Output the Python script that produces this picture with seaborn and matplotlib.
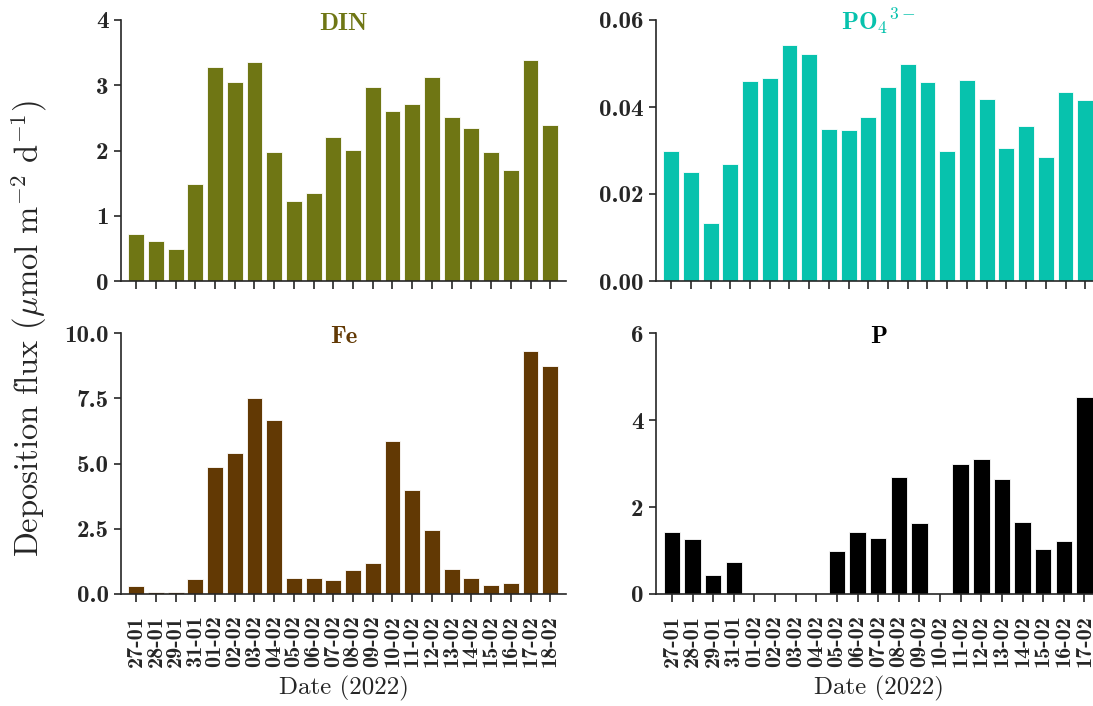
import matplotlib
matplotlib.use("Agg")
import matplotlib.pyplot as plt
import seaborn as sns
from matplotlib.ticker import StrMethodFormatter

# sampling dates (day-month, 2022)
dates = ["27-01", "28-01", "29-01", "31-01", "01-02", "02-02", "03-02", "04-02",
         "05-02", "06-02", "07-02", "08-02", "09-02", "10-02", "11-02", "12-02",
         "13-02", "14-02", "15-02", "16-02", "17-02", "18-02"]
dates_p = dates[:-1]

# deposition fluxes (umol m-2 d-1)
din = [0.72, 0.62, 0.49, 1.48, 3.28, 3.05, 3.35, 1.98, 1.23, 1.35, 2.21,
       2.01, 2.97, 2.61, 2.72, 3.12, 2.52, 2.34, 1.98, 1.70, 3.39, 2.39]
po4 = [0.0299, 0.0251, 0.0133, 0.0269, 0.0460, 0.0467, 0.0543, 0.0521,
       0.0350, 0.0348, 0.0377, 0.0446, 0.0499, 0.0458, 0.0299, 0.0463,
       0.0418, 0.0306, 0.0356, 0.0285, 0.0434, 0.0416]
fe = [0.32, 0.09, 0.06, 0.57, 4.88, 5.42, 7.51, 6.68, 0.63, 0.60, 0.52,
      0.92, 1.20, 5.85, 4.00, 2.44, 0.97, 0.60, 0.36, 0.43, 9.32, 8.72]
p_flux = [1.42, 1.26, 0.44, 0.74, 0.0, 0.0, 0.0, 0.0, 1.00, 1.42, 1.28,
          2.69, 1.64, 0.0, 2.98, 3.11, 2.64, 1.65, 1.03, 1.21, 4.53]

din_yticks = [0, 1, 2, 3, 4]
po4_yticks = [0.00, 0.02, 0.04, 0.06]
fe_yticks = [0.0, 2.5, 5.0, 7.5, 10.0]
p_yticks = [0, 2, 4, 6]

sns.set_style("ticks")
plt.rcParams["font.family"] = ["cmb10"]
plt.rcParams["mathtext.fontset"] = "cm"
plt.rcParams["axes.unicode_minus"] = False
plt.rcParams["axes.linewidth"] = 1.2

fig = plt.figure(figsize=(10.93, 7.06), dpi=100)

W, H = 1093, 706
# axes boxes in pixels: left, top (right column runs past the edge)
boxes = [(121, 20), (656, 20), (121, 333), (656, 333)]
panels = [
    (dates, din, "#6f7614", "DIN", din_yticks, "{x:.0f}", False),
    (dates, po4, "#07c2ad", r"PO$_\mathbf{4}$$^\mathbf{3-}$", po4_yticks, "{x:.2f}", False),
    (dates, fe, "#623904", "Fe", fe_yticks, "{x:.1f}", True),
    (dates_p, p_flux, "black", "P", p_yticks, "{x:.0f}", True),
]

for (x0, y0), (labels, vals, col, title, yt, fmt, bottom) in zip(boxes, panels):
    ax = fig.add_axes([x0 / W, (H - y0 - 261) / H, 445 / W, 261 / H])
    sns.barplot(x=labels, y=vals, color=col, saturation=1, width=0.8,
                edgecolor="white", linewidth=0.6, ax=ax)
    n = len(labels)
    ax.set_xlim(-0.77, n - 0.2)
    ax.set_ylim(0, yt[-1])
    ax.set_yticks(yt)
    ax.yaxis.set_major_formatter(StrMethodFormatter(fmt))
    sns.despine(ax=ax)
    ax.tick_params(length=5.4, width=1.2)
    ax.tick_params(axis="y", labelsize=18)
    ax.tick_params(axis="x", pad=10, labelsize=16)
    ax.text(0.5, 0.962, title, transform=ax.transAxes, ha="center",
            va="baseline", color=col, fontsize=18)
    if bottom:
        ax.tick_params(axis="x", labelrotation=90)
        ax.set_xlabel("Date (2022)", family="cmr10", fontsize=18, labelpad=6)
    else:
        ax.tick_params(axis="x", labelbottom=False)
        ax.set_xlabel("")

fig.text(0.026, 0.534, r"Deposition flux ($\mu$mol m$^{-2}$ d$^{-1}$)",
         rotation=90, ha="center", va="center", fontsize=23.5, family="cmr10")

fig.savefig("out.png", dpi=100)
